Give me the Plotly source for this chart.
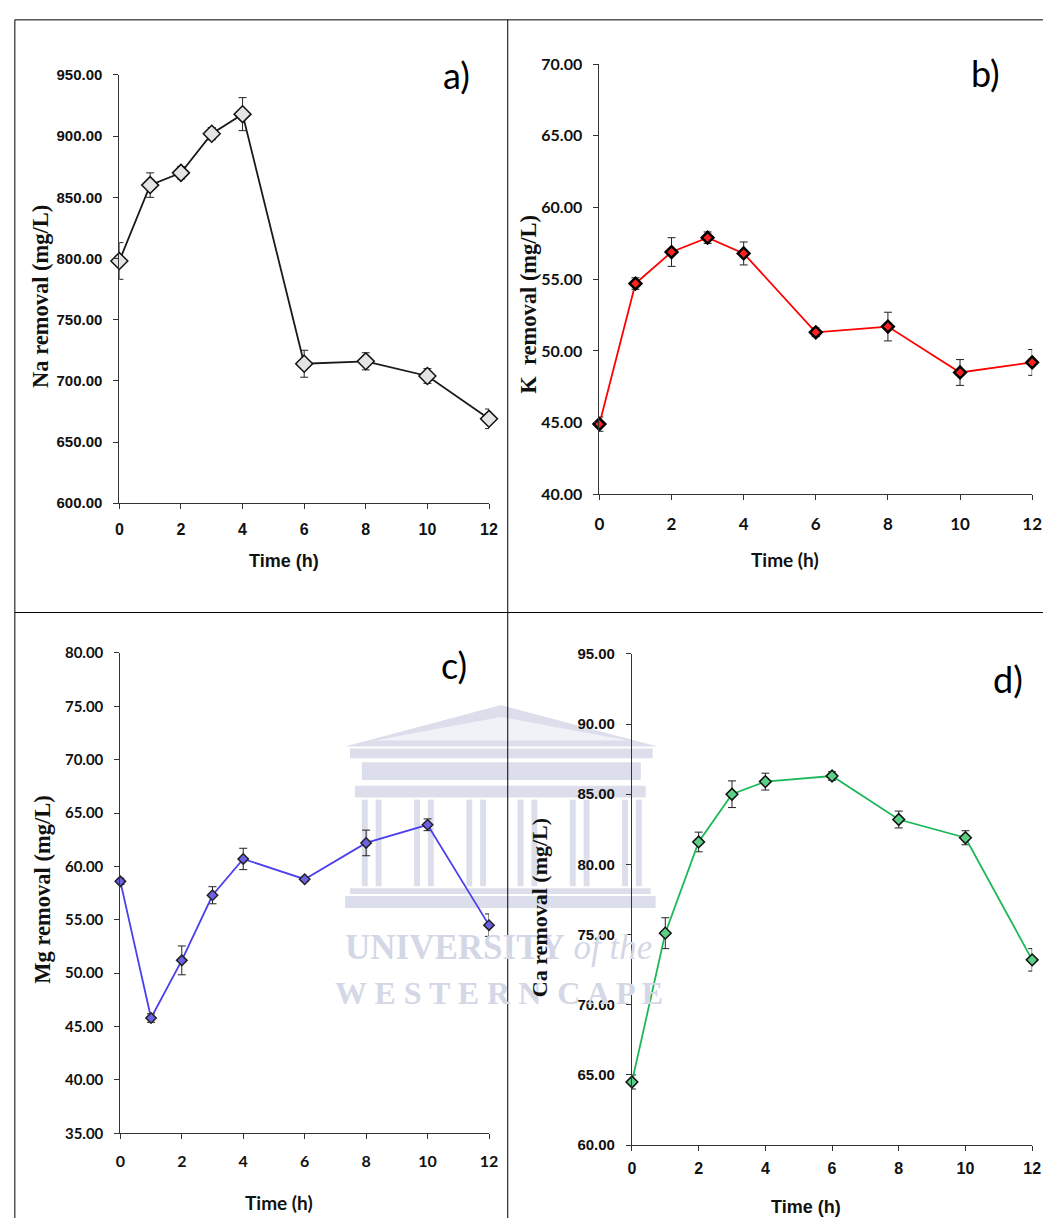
import plotly.graph_objects as go

W, H = 1053, 1227

time_h = [0, 1, 2, 3, 4, 6, 8, 10, 12]
x_ticks = [0, 2, 4, 6, 8, 10, 12]

na_vals = [798, 860, 870, 902, 918, 714, 716, 704, 669]
na_err = [15, 10, 5, 5, 13.5, 11, 7, 6, 8]
k_vals = [44.9, 54.7, 56.9, 57.9, 56.8, 51.3, 51.7, 48.5, 49.2]
k_err = [0.5, 0.4, 1.0, 0.4, 0.8, 0.3, 1.0, 0.9, 0.9]
mg_vals = [58.6, 45.8, 51.2, 57.3, 60.7, 58.8, 62.2, 63.9, 54.5]
mg_err = [0.3, 0.4, 1.35, 0.8, 1.0, 0.2, 1.2, 0.55, 1.05]
ca_vals = [64.5, 75.1, 81.6, 85.0, 85.9, 86.3, 83.2, 81.9, 73.2]
ca_err = [0.5, 1.1, 0.7, 0.95, 0.6, 0.3, 0.6, 0.5, 0.8]

y_titles = ["Na removal (mg/L)", "K\u00a0 removal (mg/L)", "Mg removal (mg/L)", "Ca removal (mg/L)"]
x_title = "Time (h)"
panel_labels = ["a)", "b)", "c)", "d)"]


def px(x):
    return x / W


def py(y):
    return 1 - y / H


NARROW = "Liberation Sans, Arial, sans-serif"
CALIBRI = "Lato, Open Sans, sans-serif"
SERIF = "Liberation Serif, Times New Roman, serif"

panels = [
    dict(vals=na_vals, err=na_err, x0=116, x1=491, y0=501, y1=66, rng=[600, 950], dt=50,
         line="#1a1a1a", mfill="#e4e4e4", mline="#111111", msize=13, mlw=1.5,
         tickfont=NARROW, tfs=15, xs=7, xt=(283, 560), xts=18, yt=(36, 291), yts=22.5,
         lab=(458, 66), xtf=NARROW),
    dict(vals=k_vals, err=k_err, x0=603, x1=1042, y0=492, y1=55, rng=[40, 70], dt=5,
         line="#ff0000", mfill="#ff2020", mline="#000000", msize=9, mlw=2.5,
         tickfont=CALIBRI, tfs=16, xs=9, xt=(791, 558), xts=19, yt=(531, 299), yts=22.5,
         lab=(995, 64), xtf=CALIBRI),
    dict(vals=mg_vals, err=mg_err, x0=117, x1=491, y0=1141, y1=653, rng=[35, 80], dt=5,
         line="#4b3fee", mfill="#6d62e6", mline="#222222", msize=8, mlw=1.5,
         tickfont=CALIBRI, tfs=15, xs=8, xt=(278, 1211), xts=19, yt=(38, 893), yts=22.5,
         lab=(455, 665), xtf=CALIBRI),
    dict(vals=ca_vals, err=ca_err, x0=636, x1=1042, y0=1153, y1=654, rng=[60, 95], dt=5,
         line="#1cb85a", mfill="#5ccf86", mline="#111111", msize=9, mlw=1.5,
         tickfont=NARROW, tfs=15, xs=4, xt=(813, 1216), xts=18, yt=(543, 912), yts=22,
         lab=(1018, 680), xtf=NARROW),
]

fig = go.Figure()
annotations = []
shapes = []

# watermark (drawn below)
wm = "#d4d7e6"
wb = "#dcdfeb"
shapes += [
    dict(type="path", xref="paper", yref="paper", layer="below",
         path=f"M {px(345)},{py(748)} L {px(503)},{py(706)} L {px(662)},{py(748)} Z",
         fillcolor=wb, line=dict(width=0)),
    dict(type="path", xref="paper", yref="paper", layer="below",
         path=f"M {px(375)},{py(742)} L {px(503)},{py(718)} L {px(632)},{py(742)} Z",
         fillcolor="#f1f2f8", line=dict(width=0)),
    dict(type="rect", xref="paper", yref="paper", layer="below",
         x0=px(350), x1=px(657), y0=py(760), y1=py(750), fillcolor=wb, line=dict(width=0)),
    dict(type="rect", xref="paper", yref="paper", layer="below",
         x0=px(362), x1=px(645), y0=py(782), y1=py(764), fillcolor=wb, line=dict(width=0)),
    dict(type="rect", xref="paper", yref="paper", layer="below",
         x0=px(355), x1=px(650), y0=py(800), y1=py(788), fillcolor=wb, line=dict(width=0)),
    dict(type="rect", xref="paper", yref="paper", layer="below",
         x0=px(345), x1=px(660), y0=py(912), y1=py(900), fillcolor=wb, line=dict(width=0)),
    dict(type="rect", xref="paper", yref="paper", layer="below",
         x0=px(350), x1=px(655), y0=py(898), y1=py(892), fillcolor=wb, line=dict(width=0)),
]
for cx in [372, 425, 478, 530, 583, 636]:
    for dx in (-7, 7):
        shapes.append(dict(type="rect", xref="paper", yref="paper", layer="below",
                           x0=px(cx + dx - 3), x1=px(cx + dx + 3), y0=py(890), y1=py(802),
                           fillcolor=wb, line=dict(width=0)))
annotations.append(dict(x=px(501), y=py(952), xref="paper", yref="paper", showarrow=False,
                        text="<b>UNIVERSITY</b> <i>of the</i>",
                        font=dict(family=SERIF, size=35, color=wm), xanchor="center", yanchor="middle"))
annotations.append(dict(x=px(501), y=py(998), xref="paper", yref="paper", showarrow=False,
                        text="<b>W E S T E R N  C A P E</b>",
                        font=dict(family=SERIF, size=32, color=wm), xanchor="center", yanchor="middle"))

for i, p in enumerate(panels, start=1):
    xa = "x" if i == 1 else f"x{i}"
    ya = "y" if i == 1 else f"y{i}"
    fig.add_trace(go.Scatter(
        x=time_h, y=p["vals"], mode="lines+markers", xaxis=xa, yaxis=ya,
        line=dict(color=p["line"], width=1.8),
        marker=dict(symbol="diamond", size=p["msize"], color=p["mfill"],
                    line=dict(color=p["mline"], width=p["mlw"])),
        error_y=dict(type="data", array=p["err"], visible=True, color="#222222",
                     thickness=1, width=4),
        cliponaxis=False, showlegend=False,
    ))
    axis_common = dict(showline=True, linecolor="#333333", linewidth=1, ticks="outside",
                       ticklen=5, tickwidth=1, tickcolor="#333333", showgrid=False, zeroline=False)
    fig.update_layout({
        ("xaxis" if i == 1 else f"xaxis{i}"): dict(
            domain=[px(p["x0"]), px(p["x1"])], range=[0, 12], anchor=ya,
            tickvals=x_ticks,
            tickfont=dict(family=p["tickfont"], size=p["tfs"] + 1, color="#111111", weight=700),
            ticklabelstandoff=p["xs"], **axis_common),
        ("yaxis" if i == 1 else f"yaxis{i}"): dict(
            domain=[py(p["y0"]), py(p["y1"])], range=p["rng"], anchor=xa, dtick=p["dt"],
            tick0=p["rng"][0], tickformat=".2f",
            tickfont=dict(family=p["tickfont"], size=p["tfs"], color="#111111", weight=700),
            ticklabelstandoff=8, **axis_common),
    })
    annotations.append(dict(x=px(p["xt"][0]), y=py(p["xt"][1]), xref="paper", yref="paper",
                            text=f"<b>{x_title}</b>", showarrow=False,
                            xanchor="center", yanchor="middle",
                            font=dict(family=p["xtf"], size=p["xts"], color="#111111")))
    annotations.append(dict(x=px(p["yt"][0]), y=py(p["yt"][1]), xref="paper", yref="paper",
                            text=f"<b>{y_titles[i-1]}</b>", showarrow=False, textangle=-90,
                            xanchor="center", yanchor="middle",
                            font=dict(family=SERIF, size=p["yts"], color="#111111")))
    annotations.append(dict(x=px(p["lab"][0]), y=py(p["lab"][1]), xref="paper", yref="paper",
                            text=panel_labels[i - 1], showarrow=False,
                            xanchor="center", yanchor="middle",
                            font=dict(family=CALIBRI, size=36, color="#000000")))

# panel frame lines
frame = [
    (10, 10, W, 10), (10, 10, 10, H), (510, 10, 510, H), (10, 612, W, 612),
]
for x0, y0, x1, y1 in frame:
    shapes.append(dict(type="line", xref="paper", yref="paper", x0=px(x0), y0=py(y0),
                       x1=px(x1), y1=py(y1), line=dict(color="#000000", width=1)))

fig.update_layout(width=W, height=H, margin=dict(l=0, r=0, t=0, b=0),
                  paper_bgcolor="white", plot_bgcolor="rgba(0,0,0,0)",
                  annotations=annotations, shapes=shapes)

fig.write_html("out.html", config={"displayModeBar": False},
               post_script="document.body.style.margin='0';document.body.style.overflow='hidden';")
